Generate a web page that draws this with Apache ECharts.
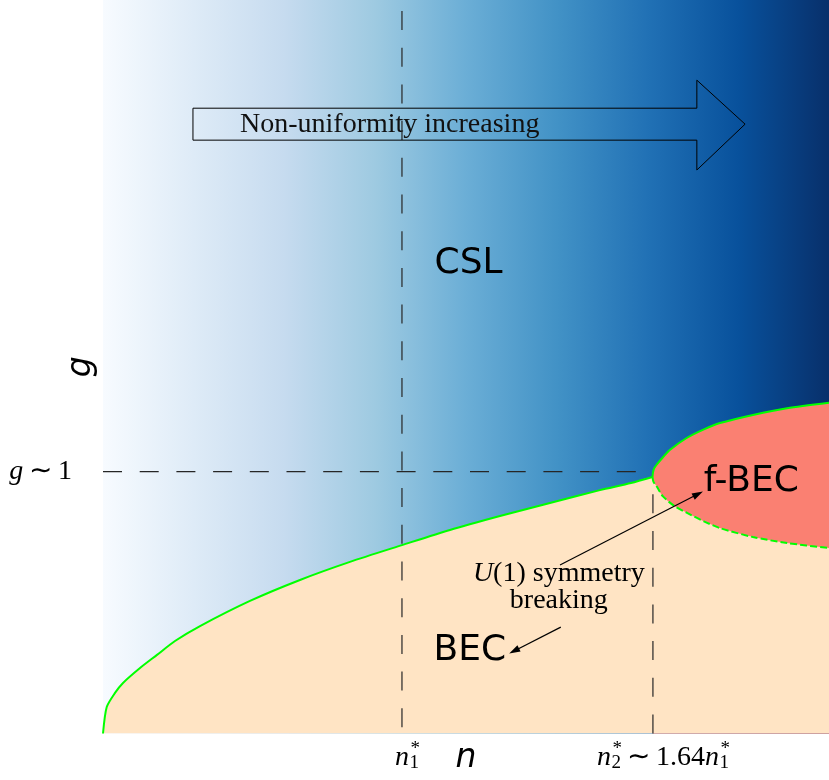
<!DOCTYPE html>
<html><head><meta charset="utf-8">
<script src="https://cdn.jsdelivr.net/npm/echarts@6/dist/echarts.min.js"></script>
<style>html,body{margin:0;padding:0;background:#fff}#c{width:829px;height:780px}</style>
</head><body><div id="c"></div>
<script>
// ---- axis ranges (n in units of n1*, g in units where g~1 is the crossover) ----
const nRange = [0.2376, 2.089];
const gRange = [0, 2.8];

// ---- tick values and labels ----
const xTickValues = [1, 1.64];
const xTickLabels = [
  [{t:'n', it:true}, {sub:'1', sup:'*'}],
  [{t:'n', it:true}, {sub:'2', sup:'*'}, {gap:0.2}, {t:'\u223C', sans:true}, {gap:0.2}, {t:'1.64'}, {t:'n', it:true}, {sub:'1', sup:'*'}]
];
const yTickValues = [1];
const yTickLabels = [
  [{t:'g', it:true}, {gap:0.2}, {t:'\u223C', sans:true}, {gap:0.2}, {t:'1'}]
];

// ---- BEC phase boundary (lower curve) ----
const becN = [0.2376, 0.2471, 0.2682, 0.2886, 0.3320, 0.3753, 0.4212, 0.4850, 0.6124, 0.7399, 0.8674, 1.0000, 1.1224, 1.2499, 1.3774, 1.5049, 1.5840, 1.6390];
const becG = [0.000, 0.101, 0.155, 0.193, 0.250, 0.300, 0.353, 0.410, 0.506, 0.586, 0.655, 0.719, 0.777, 0.830, 0.880, 0.929, 0.956, 0.979];

// ---- f-BEC region: upper and lower edges ----
const fbecTopN = [1.6390, 1.6400, 1.6430, 1.6500, 1.6600, 1.6830, 1.7260, 1.7700, 1.8110, 1.8950, 1.9820, 2.0890];
const fbecTopG = [0.979, 0.995, 1.012, 1.027, 1.045, 1.082, 1.128, 1.161, 1.185, 1.216, 1.242, 1.263];
const fbecBotN = [1.6390, 1.6410, 1.6450, 1.6490, 1.6650, 1.6950, 1.7270, 1.7700, 1.8110, 1.8950, 1.9820, 2.0890];
const fbecBotG = [0.979, 0.962, 0.952, 0.945, 0.906, 0.868, 0.842, 0.810, 0.784, 0.750, 0.727, 0.708];

// ---- text annotations (data coordinates) ----
const regionNames = ['CSL', 'BEC', 'f-BEC'];
const regionPos = [[1.170, 1.795], [1.173, 0.318], [1.891, 0.963]];
const arrowLabel = 'Non-uniformity increasing';
const arrowLabelPos = [0.587, 2.326];
const blockArrowN = [0.467, 1.752, 1.752, 1.875, 1.752, 1.752, 0.467];
const blockArrowG = [2.387, 2.387, 2.494, 2.326, 2.151, 2.265, 2.265];
const notePos = [1.400, 0.559];
const noteArrows = [
  [[1.403, 0.643], [1.755, 0.914]],
  [[1.405, 0.406], [1.286, 0.315]]
];

const pairs = (xs, ys) => xs.map((x, i) => [x, ys[i]]);
const becCurve = pairs(becN, becG);
const topCurve = pairs(fbecTopN, fbecTopG);
const botCurve = pairs(fbecBotN, fbecBotG);
const lowerBoundary = becCurve.concat(botCurve.slice(1));

const LIME = '#00ff00';
const DASH = [19, 17.7];
const SERIF = '"Liberation Serif", "DejaVu Serif", serif';
const SANS = '"DejaVu Sans", sans-serif';
const SMOOTH = 0.25;

const blues = ['#f7fbff', '#deebf7', '#c6dbef', '#9ecae1', '#6baed6', '#4292c6', '#2171b5', '#08519c', '#08306b'];

const chart = echarts.init(document.getElementById('c'), null, {renderer: 'canvas'});

const option = {
  animation: false,
  grid: {
    left: 103, right: 0, top: 0, bottom: 46.5,
    show: true, borderWidth: 0,
    backgroundColor: {
      type: 'linear', x: 0, y: 0, x2: 1, y2: 0,
      colorStops: blues.map((c, i) => ({offset: i / (blues.length - 1), color: c}))
    }
  },
  xAxis: {
    type: 'value', min: nRange[0], max: nRange[1],
    axisLine: {show: false}, axisTick: {show: false}, splitLine: {show: false}, axisLabel: {show: false},
    name: 'n', nameLocation: 'middle', nameGap: 8.5,
    nameTextStyle: {fontFamily: SANS, fontStyle: 'italic', fontSize: 33, color: '#000', verticalAlign: 'top'}
  },
  yAxis: {
    type: 'value', min: gRange[0], max: gRange[1],
    axisLine: {show: false}, axisTick: {show: false}, splitLine: {show: false}, axisLabel: {show: false},
    name: 'g', nameLocation: 'middle', nameRotate: 90, nameGap: 5,
    nameTextStyle: {fontFamily: SANS, fontStyle: 'italic', fontSize: 33, color: '#000', verticalAlign: 'bottom'}
  },
  series: [
    { type: 'line', data: topCurve, symbol: 'none', z: 2, silent: true, smooth: SMOOTH,
      lineStyle: {color: LIME, width: 2},
      areaStyle: {color: '#fa8072', opacity: 1, origin: 'start'} },
    { type: 'line', data: lowerBoundary, symbol: 'none', z: 3, silent: true, smooth: SMOOTH,
      lineStyle: {width: 0},
      areaStyle: {color: '#ffe4c4', opacity: 1, origin: 'start'} },
    { type: 'line', data: becCurve, symbol: 'none', z: 4, silent: true, smooth: SMOOTH,
      lineStyle: {color: LIME, width: 2} },
    { type: 'line', data: botCurve, symbol: 'none', z: 4, silent: true, smooth: SMOOTH,
      lineStyle: {color: LIME, width: 2, type: [7, 3]} },
    { type: 'line', data: [[xTickValues[0], gRange[1]], [xTickValues[0], gRange[0]]], symbol: 'none', z: 5, silent: true,
      lineStyle: {color: '#262626', width: 1.2, type: DASH, dashOffset: -11} },
    { type: 'line', data: [[xTickValues[1], gRange[0]], [xTickValues[1], fbecTopG[0]]], symbol: 'none', z: 5, silent: true,
      lineStyle: {color: '#262626', width: 1.2, type: DASH} },
    { type: 'line', data: [[nRange[0], yTickValues[0]], [xTickValues[1], yTickValues[0]]], symbol: 'none', z: 5, silent: true,
      lineStyle: {color: '#262626', width: 1.2, type: DASH},
      markLine: {
        silent: true, symbol: ['none', 'triangle'], symbolSize: [7, 11],
        label: {show: false},
        lineStyle: {color: '#000', width: 1.2, type: 'solid'},
        data: noteArrows.map(a => [{coord: a[0]}, {coord: a[1]}])
      } }
  ]
};
chart.setOption(option);

// ---------- text and annotation layer, positioned through the axes ----------
const mctx = document.createElement('canvas').getContext('2d');
function tw(text, font) { mctx.font = font; return mctx.measureText(text).width; }
function fam(sans) { return sans ? SANS : SERIF; }
function fontStr(size, it, sans) { return (it ? 'italic ' : '') + size + 'px ' + fam(sans); }

function mathLayout(tokens, F) {
  const s = 0.68 * F;
  let x = 0; const items = [];
  for (const tk of tokens) {
    if (tk.gap) { x += tk.gap * F; continue; }
    if (tk.t) {
      items.push({text: tk.t, x, dy: 0, size: F, it: !!tk.it, sans: !!tk.sans});
      x += tw(tk.t, fontStr(F, tk.it, tk.sans));
    } else {
      const w1 = tk.sub ? tw(tk.sub, fontStr(s, false)) : 0;
      const w2 = tk.sup ? tw(tk.sup, fontStr(s, false)) : 0;
      if (tk.sub) items.push({text: tk.sub, x: x + 0.5, dy: 0.1 * F, size: s, it: false});
      if (tk.sup) items.push({text: tk.sup, x: x + 1.5, dy: -0.42 * F, size: s, it: false});
      x += Math.max(w1, w2) + 1;
    }
  }
  return {items, width: x};
}
function mathGraphics(tokens, F, left, baseY) {
  const L = mathLayout(tokens, F);
  return L.items.map(it => ({
    type: 'text', silent: true, z: 50,
    x: left + it.x, y: baseY + it.dy - 0.34 * it.size,
    style: {text: it.text, fontFamily: fam(it.sans), fontStyle: it.it ? 'italic' : 'normal',
            fontSize: it.size, fill: '#000', align: 'left', verticalAlign: 'middle'}
  }));
}

function build() {
  const P = p => chart.convertToPixel({gridIndex: 0}, p);
  const F = 28;
  const g = [];
  // x tick labels
  const xLeftOffsets = [-7, -56];
  xTickValues.forEach((v, i) => {
    const px = P([v, gRange[0]]);
    g.push(...mathGraphics(xTickLabels[i], F, px[0] + xLeftOffsets[i], px[1] + 33.5));
  });
  // y tick label
  yTickValues.forEach((v, i) => {
    const px = P([nRange[0], v]);
    const L = mathLayout(yTickLabels[i], F);
    g.push(...mathGraphics(yTickLabels[i], F, px[0] - 31 - L.width, px[1] + 9.5));
  });
  // region names
  regionNames.forEach((name, i) => {
    const px = P(regionPos[i]);
    g.push({type: 'text', silent: true, z: 50, x: px[0], y: px[1],
      style: {text: name, fontFamily: SANS, fontSize: 36, fill: '#000', align: 'center', verticalAlign: 'middle'}});
  });
  // block arrow
  const pts = blockArrowN.map((n, i) => P([n, blockArrowG[i]]));
  g.push({type: 'polygon', silent: true, z: 40, shape: {points: pts},
    style: {fill: 'none', stroke: '#000', lineWidth: 1}});
  const ap = P(arrowLabelPos);
  g.push({type: 'text', silent: true, z: 50, x: ap[0], y: ap[1],
    style: {text: arrowLabel, fontFamily: SERIF, fontSize: F, fill: '#111', align: 'left', verticalAlign: 'middle'}});
  // note text
  const np = P(notePos);
  g.push({type: 'text', silent: true, z: 50, x: np[0], y: np[1],
    style: {text: '{it|U}(1) symmetry\nbreaking',
      fontFamily: SERIF, fontSize: F, lineHeight: 27, fill: '#000', align: 'center', verticalAlign: 'middle',
      rich: {it: {fontFamily: SERIF, fontSize: F, fontStyle: 'italic', lineHeight: 27}}}});
  chart.setOption({graphic: g});
}
build();
</script></body></html>
